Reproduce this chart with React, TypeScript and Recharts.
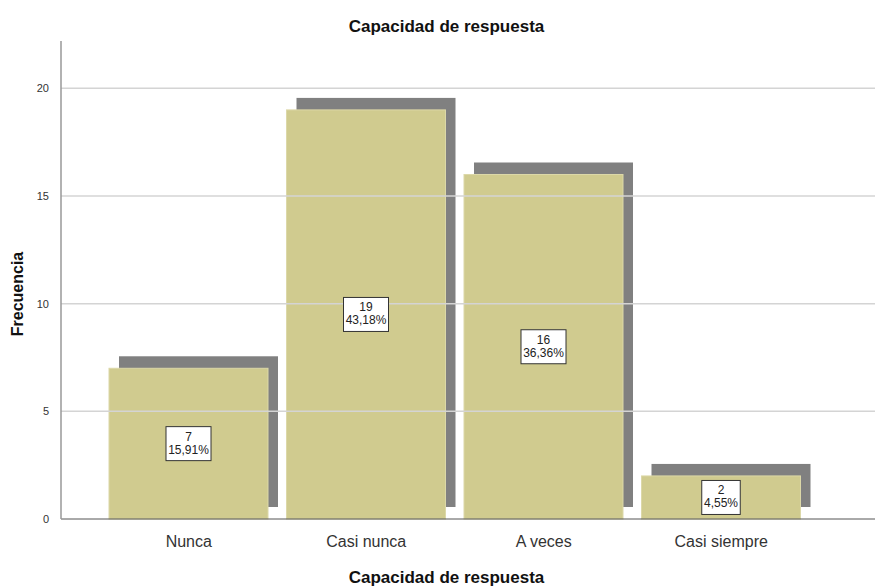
import React from 'react';
import { BarChart, Bar, XAxis, YAxis, ReferenceLine, LabelList } from 'recharts';

const categories = ['Nunca', 'Casi nunca', 'A veces', 'Casi siempre'];
const counts = [7, 19, 16, 2];
const percents = ['15,91%', '43,18%', '36,36%', '4,55%'];
const yTicks = [0, 5, 10, 15, 20];
const gridValues = [5, 10, 15, 20];

const data = categories.map((name, i) => ({ name, value: counts[i], pct: percents[i] }));

const BAR_FILL = '#d0cb8f';
const SHADOW_FILL = '#808080';
const FONT = 'Liberation Sans, Arial, sans-serif';

// bar with a gray drop shadow offset up and to the right
const ShadowBar = (props: any) => {
  const { x, y, width, height } = props;
  return (
    <g>
      <rect x={x + 10} y={y - 12} width={width} height={height} fill={SHADOW_FILL} />
      <rect x={x} y={y} width={width} height={height} fill={BAR_FILL} stroke="#dcd8a8" strokeWidth={1} />
    </g>
  );
};

const CountLabel = (props: any) => {
  const { x, y, width, height, index } = props;
  const pct = percents[index];
  const w = pct.length * 6.5 + 6;
  const h = 34;
  const cx = x + width / 2;
  const cy = y + height / 2;
  return (
    <g>
      <rect x={cx - w / 2} y={cy - h / 2} width={w} height={h} fill="#fff" stroke="#333" strokeWidth={1} />
      <text x={cx} y={cy - 3} textAnchor="middle" fontSize={12} fill="#222" fontFamily={FONT}>
        {counts[index]}
      </text>
      <text x={cx} y={cy + 10} textAnchor="middle" fontSize={12} fill="#222" fontFamily={FONT}>
        {pct}
      </text>
    </g>
  );
};

const titleStyle: React.CSSProperties = {
  position: 'absolute',
  left: 0,
  width: 893,
  textAlign: 'center',
  fontSize: 17,
  lineHeight: '20px',
  fontWeight: 'bold',
  color: '#111',
};

export default function App() {
  return (
    <div style={{ position: 'relative', width: 875, height: 588, background: '#fff', fontFamily: FONT }}>
      <style>{`body{margin:0}`}</style>
      <div style={{ ...titleStyle, top: 17 }}>Capacidad de respuesta</div>
      <div style={{ ...titleStyle, top: 568 }}>Capacidad de respuesta</div>
      <div
        style={{
          position: 'absolute',
          left: 18,
          top: 294,
          transform: 'translate(-50%, -50%) rotate(-90deg)',
          fontSize: 16,
          fontWeight: 'bold',
          color: '#111',
          whiteSpace: 'nowrap',
        }}
      >
        Frecuencia
      </div>
      <BarChart width={875} height={588} data={data} margin={{ top: 41, right: 0, left: 0, bottom: 29 }}>
        {gridValues.map((v) => (
          <ReferenceLine key={v} y={v} stroke="#d4d4d4" strokeWidth={1.5} />
        ))}
        <XAxis
          dataKey="name"
          height={40}
          padding={{ left: 39, right: 65 }}
          tickLine={false}
          axisLine={{ stroke: '#555' }}
          tick={{ fontSize: 16, fill: '#333' }}
          tickMargin={11}
        />
        <YAxis
          width={61}
          domain={[0, 22.2]}
          ticks={yTicks}
          interval={0}
          tickLine={false}
          axisLine={{ stroke: '#999', strokeWidth: 1.5 }}
          tick={{ fontSize: 11, fill: '#333' }}
          tickMargin={6}
        />
        <Bar dataKey="value" barSize={159} shape={<ShadowBar />} isAnimationActive={false}>
          <LabelList dataKey="value" content={<CountLabel />} />
        </Bar>
      </BarChart>
    </div>
  );
}
